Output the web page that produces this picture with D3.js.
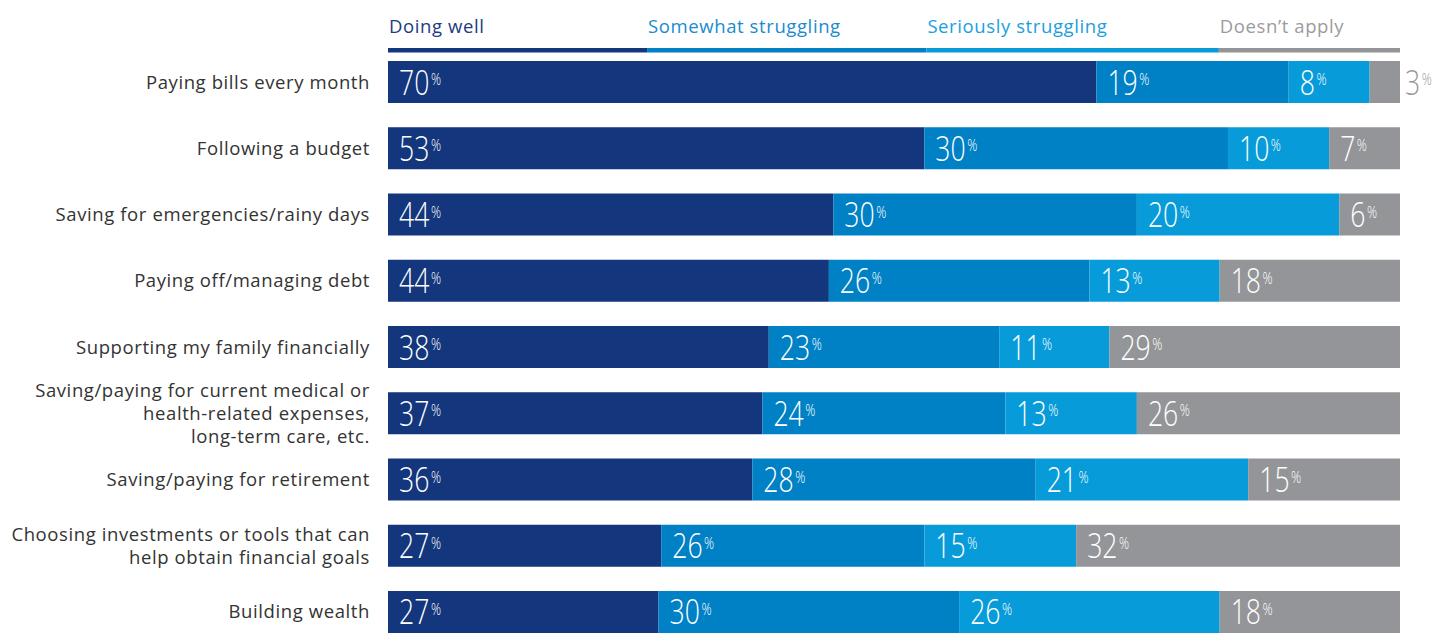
<!DOCTYPE html>
<html>
<head>
<meta charset="utf-8">
<script src="https://cdn.jsdelivr.net/npm/d3@7"></script>
<style>
  html, body { margin: 0; padding: 0; background: #fff; }
  svg { display: block; }
  text { font-family: "Open Sans", "Noto Sans", sans-serif; }
</style>
</head>
<body>
<svg id="chart" width="1453" height="635"></svg>
<script>
// Financial well-being by activity: share of respondents per status
const categories = [
  "Paying bills every month",
  "Following a budget",
  "Saving for emergencies/rainy days",
  "Paying off/managing debt",
  "Supporting my family financially",
  "Saving/paying for current medical or\nhealth-related expenses,\nlong-term care, etc.",
  "Saving/paying for retirement",
  "Choosing investments or tools that can\nhelp obtain financial goals",
  "Building wealth"
];
const seriesNames = ["Doing well", "Somewhat struggling", "Seriously struggling", "Doesn\u2019t apply"];
const doingWell   = [70, 53, 44, 44, 38, 37, 36, 27, 27];
const somewhat    = [19, 30, 30, 26, 23, 24, 28, 26, 30];
const seriously   = [8, 10, 20, 13, 11, 13, 21, 15, 26];
const doesntApply = [3, 7, 6, 18, 29, 26, 15, 32, 18];

// Styling / layout
const colors = ["#13367c", "#0081c5", "#079cd9", "#939598"];
const legendTextColors = ["#1c3b80", "#1a8bcc", "#1ca0dc", "#9a9b9e"];
const legendShares = [0.256, 0.276, 0.289, 0.179]; // legend segment widths, share of bar length
const barLeft = 388, barRight = 1400;
const plotTop = 61, plotBottom = 633;

const seriesValues = [doingWell, somewhat, seriously, doesntApply];
const rows = categories.map((c, i) => {
  const vals = seriesValues.map(s => s[i]);
  return { category: c, values: vals, total: d3.sum(vals) };
});

const svg = d3.select("#chart");

const y = d3.scaleBand()
  .domain(categories)
  .range([plotTop, plotBottom])
  .paddingInner(0.366)
  .paddingOuter(0);

// Legend: coloured rule under each series name
const legendX = d3.scaleLinear().domain([0, 1]).range([barLeft, barRight]);
const legendStarts = d3.cumsum([0].concat(legendShares.slice(0, -1)));
const legend = svg.append("g").attr("class", "legend");
seriesNames.forEach((name, k) => {
  const x0 = legendX(legendStarts[k]);
  const x1 = legendX(legendStarts[k] + legendShares[k]);
  legend.append("rect")
    .attr("x", x0).attr("y", 48)
    .attr("width", x1 - x0).attr("height", 4.5)
    .attr("fill", colors[k]);
  legend.append("text")
    .attr("x", x0 + 1).attr("y", 33)
    .attr("font-size", 18.5)
    .attr("letter-spacing", 0.6)
    .attr("fill", legendTextColors[k])
    .text(name);
});

// Category labels (multi-line where needed)
const labels = svg.append("g").attr("class", "labels");
categories.forEach(c => {
  const lines = c.split("\n");
  const cy = y(c) + y.bandwidth() / 2;
  const lh = 23;
  const t = labels.append("text")
    .attr("text-anchor", "end")
    .attr("font-size", 18.5)
    .attr("letter-spacing", 0.6)
    .attr("fill", "#333");
  lines.forEach((ln, j) => {
    t.append("tspan")
      .attr("x", 370)
      .attr("y", cy + 6.5 + (j - (lines.length - 1) / 2) * lh)
      .text(ln);
  });
});

// Stacked bars
const barsG = svg.append("g").attr("class", "bars");
rows.forEach(r => {
  const x = d3.scaleLinear().domain([0, r.total]).range([barLeft, barRight]);
  const starts = d3.cumsum([0].concat(r.values.slice(0, -1)));
  const top = y(r.category);
  const h = y.bandwidth();
  r.values.forEach((v, k) => {
    const x0 = x(starts[k]);
    const x1 = x(starts[k] + v);
    barsG.append("rect")
      .attr("x", x0).attr("y", top)
      .attr("width", x1 - x0).attr("height", h)
      .attr("fill", colors[k]);

    const outside = (x1 - x0) < 40;
    const lx = outside ? x1 + 5 : x0 + 11;
    const label = barsG.append("text")
      .attr("transform", `translate(${lx},${top + h / 2 + 12.5}) scale(0.76,1)`)
      .attr("fill", outside ? "#97989b" : "#fff")
      .attr("font-weight", 300);
    label.append("tspan")
      .attr("font-size", 35)
      .text(v);
    label.append("tspan")
      .attr("font-size", 16.5)
      .attr("dx", 2)
      .attr("dy", -9.5)
      .text("%");
  });
});
</script>
</body>
</html>
